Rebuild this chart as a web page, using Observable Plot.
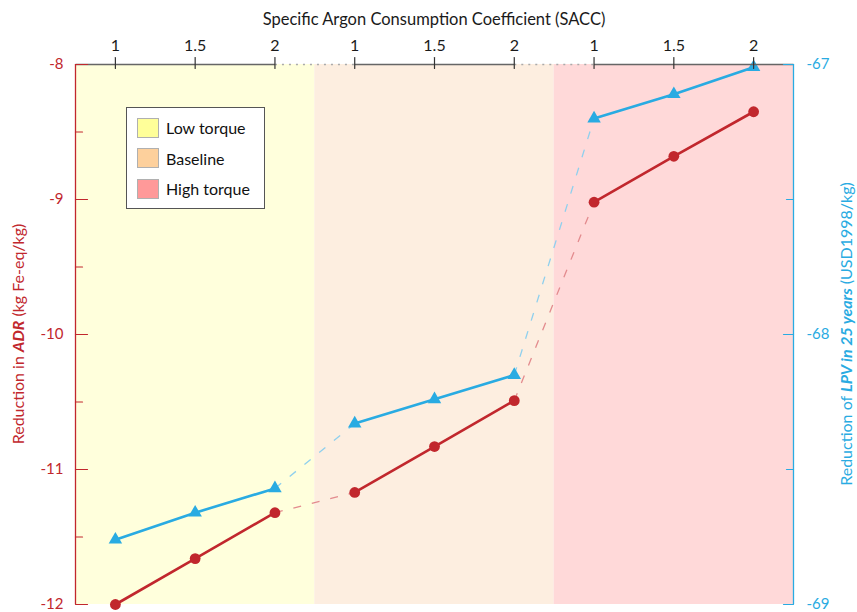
<!DOCTYPE html>
<html>
<head>
<meta charset="utf-8">
<script src="https://cdn.jsdelivr.net/npm/d3@7"></script>
<script src="https://cdn.jsdelivr.net/npm/@observablehq/plot@0.6"></script>
<style>
  body { margin: 0; background: #fff; font-family: Lato, "Open Sans", sans-serif; }
  #chart { position: relative; width: 857px; height: 612px; }
  #chart svg { position: absolute; left: 0; top: 0; }
  .legend {
    position: absolute; left: 126px; top: 107px; width: 137px; height: 100px;
    border: 1px solid #555; background: #fff; box-sizing: content-box;
  }
  .legend .row { position: absolute; left: 10px; height: 21px; display: flex; align-items: center; }
  .legend .sw { width: 20px; height: 18px; border: 1px solid #b0b0b0; margin-right: 7px; }
  .legend .lab { font-size: 16px; color: #111; }
</style>
</head>
<body>
<div id="chart"></div>
<script>
// Specific argon consumption coefficient levels, repeated within each torque scenario
const saccLevels = [1, 1.5, 2];
const scenarios = ["Low torque", "Baseline", "High torque"];
const bandFill = ["#ffffdc", "#fdeee0", "#ffd9d9"];
const swatchFill = ["#ffff99", "#fdd09c", "#ff9999"];

// Reduction in ADR (kg Fe-eq/kg), left axis
const adr = [-12.0, -11.66, -11.32, -11.17, -10.83, -10.49, -9.02, -8.68, -8.35];
// Reduction of LPV in 25 years (USD1998/kg), right axis
const lpv = [-68.76, -68.66, -68.57, -68.33, -68.24, -68.15, -67.20, -67.11, -67.01];

const adrTicks = [-8, -9, -10, -11, -12];
const adrMinor = [-8.5, -9.5, -10.5, -11.5];
const lpvTicks = [-67, -68, -69];
const lpvMinor = [-67.5, -68.5];

const red = "#c1272d";
const blue = "#29abe2";

const adrDomain = [-12, -8];
const lpvDomain = [-69, -67];
// LPV values share the plot's y scale through a linear map onto the ADR range
const toLeft = v => adrDomain[0] + (v - lpvDomain[0]) * (adrDomain[1] - adrDomain[0]) / (lpvDomain[1] - lpvDomain[0]);

const perGroup = saccLevels.length;
const rows = adr.map((v, i) => ({
  pos: i,
  group: Math.floor(i / perGroup),
  scenario: scenarios[Math.floor(i / perGroup)],
  sacc: saccLevels[i % perGroup],
  adr: v,
  lpv: lpv[i],
  lpvY: toLeft(lpv[i])
}));
const positions = rows.map(d => d.pos);
const xDomain = [-0.5, rows.length - 0.5];

const bands = scenarios.map((s, g) => ({
  scenario: s, x1: g * perGroup - 0.5, x2: g * perGroup + perGroup - 0.5, fill: bandFill[g]
}));

// links between the last point of one scenario and the first of the next
const bridges = rows.filter(d => d.pos % perGroup === perGroup - 1 && d.pos + 1 < rows.length)
  .map(d => ({a: d, b: rows[d.pos + 1]}));

// top axis line: solid within each scenario, dotted across the gaps
const solidSegs = scenarios.map((s, g) => ({
  x1: g === 0 ? xDomain[0] : g * perGroup,
  x2: g === scenarios.length - 1 ? xDomain[1] : g * perGroup + perGroup - 1
}));
const gapSegs = bridges.map(({a, b}) => ({x1: a.pos, x2: b.pos}));

const tickShape = {draw(ctx, l) { ctx.moveTo(0, 0); ctx.lineTo(0, -l); }};

const plot = Plot.plot({
  width: 857,
  height: 612,
  marginLeft: 75,
  marginRight: 64,
  marginTop: 64,
  marginBottom: 8,
  style: {fontFamily: "Lato, 'Open Sans', sans-serif", background: "transparent", overflow: "visible"},
  x: {domain: xDomain},
  y: {domain: adrDomain},
  marks: [
    Plot.rectY(bands, {x1: "x1", x2: "x2", y1: adrDomain[0], y2: adrDomain[1], fill: d => d.fill}),

    // dashed bridges between scenarios
    Plot.link(bridges, {x1: d => d.a.pos, x2: d => d.b.pos, y1: d => d.a.adr, y2: d => d.b.adr,
      stroke: "#e38b8e", strokeWidth: 1.3, strokeDasharray: "8,11"}),
    Plot.link(bridges, {x1: d => d.a.pos, x2: d => d.b.pos, y1: d => d.a.lpvY, y2: d => d.b.lpvY,
      stroke: "#8fd0ee", strokeWidth: 1.3, strokeDasharray: "8,11"}),

    // series lines within each scenario
    Plot.line(rows, {x: "pos", y: "adr", z: "scenario", stroke: red, strokeWidth: 2.6}),
    Plot.line(rows, {x: "pos", y: "lpvY", z: "scenario", stroke: blue, strokeWidth: 2.6}),
    Plot.dot(rows, {x: "pos", y: "adr", r: 5.4, fill: red, stroke: "none"}),
    Plot.dot(rows, {x: "pos", y: "lpvY", r: 5, symbol: "triangle", fill: blue, stroke: "none"}),

    // top axis line
    Plot.link(solidSegs, {x1: "x1", x2: "x2", y1: adrDomain[1], y2: adrDomain[1], stroke: "#666", strokeWidth: 1.6}),
    Plot.link(gapSegs, {x1: "x1", x2: "x2", y1: adrDomain[1], y2: adrDomain[1], stroke: "#aaa", strokeWidth: 1.6, strokeDasharray: "2,5"}),
    Plot.vector(positions, {x: d => d, y: () => adrDomain[1], length: 11, rotate: 0, anchor: "start",
      shape: tickShape, dy: 4, stroke: "#333", strokeWidth: 1.2}),
    Plot.axisX({anchor: "top", ticks: positions, tickFormat: i => String(saccLevels[i % perGroup]),
      tickSize: 0, tickPadding: 14, fontSize: 16, color: "#1a1a1a"}),

    // left axis (ADR)
    Plot.ruleX([xDomain[0]], {y1: adrDomain[0], y2: adrDomain[1], stroke: red, strokeWidth: 1.3}),
    Plot.vector(adrTicks, {x: () => xDomain[0], y: d => d, length: 12, rotate: 90, anchor: "start",
      shape: tickShape, stroke: red, strokeWidth: 1.2}),
    Plot.vector(adrMinor, {x: () => xDomain[0], y: d => d, length: 7, rotate: 90, anchor: "start",
      shape: tickShape, stroke: red, strokeWidth: 1.2}),
    Plot.axisY({anchor: "left", ticks: adrTicks, tickFormat: d => String(d), tickSize: 0,
      tickPadding: 12, fontSize: 15, color: red}),

    // right axis (LPV)
    Plot.ruleX([xDomain[1]], {y1: adrDomain[0], y2: adrDomain[1], stroke: blue, strokeWidth: 1.3}),
    Plot.vector(lpvTicks, {x: () => xDomain[1], y: toLeft, length: 10, rotate: -90, anchor: "start",
      shape: tickShape, stroke: blue, strokeWidth: 1.2}),
    Plot.vector(lpvMinor, {x: () => xDomain[1], y: toLeft, length: 7, rotate: -90, anchor: "start",
      shape: tickShape, stroke: blue, strokeWidth: 1.2}),
    Plot.axisY({anchor: "right", ticks: lpvTicks.map(toLeft),
      tickFormat: d => String(lpvTicks[lpvTicks.map(toLeft).indexOf(d)]),
      tickSize: 0, tickPadding: 13, fontSize: 15, color: blue})
  ]
});

const chart = document.getElementById("chart");
chart.appendChild(plot);

// axis titles with mixed styling
const svg = d3.select(plot);
const midY = (64 + 604) / 2;
svg.append("text")
  .attr("x", (75 + 793) / 2).attr("y", 25)
  .attr("text-anchor", "middle")
  .attr("font-size", 16.5).attr("fill", "#1a1a1a")
  .text("Specific Argon Consumption Coefficient (SACC)");

const leftTitle = svg.append("text")
  .attr("transform", `translate(24,${midY}) rotate(-90)`)
  .attr("text-anchor", "middle").attr("font-size", 16).attr("fill", red);
leftTitle.append("tspan").text("Reduction in ");
leftTitle.append("tspan").attr("font-weight", "bold").attr("font-style", "italic").text("ADR");
leftTitle.append("tspan").text(" (kg Fe-eq/kg)");

const rightTitle = svg.append("text")
  .attr("transform", `translate(852,${midY}) rotate(-90)`)
  .attr("text-anchor", "middle").attr("font-size", 16).attr("fill", blue);
rightTitle.append("tspan").text("Reduction of ");
rightTitle.append("tspan").attr("font-weight", "bold").attr("font-style", "italic").text("LPV in 25 years");
rightTitle.append("tspan").text(" (USD1998/kg)");

// legend
const legend = d3.select(chart).append("div").attr("class", "legend");
scenarios.forEach((s, g) => {
  const row = legend.append("div").attr("class", "row").style("top", `${9 + g * 30.5}px`);
  row.append("div").attr("class", "sw").style("background", swatchFill[g]);
  row.append("div").attr("class", "lab").text(s);
});
</script>
</body>
</html>
